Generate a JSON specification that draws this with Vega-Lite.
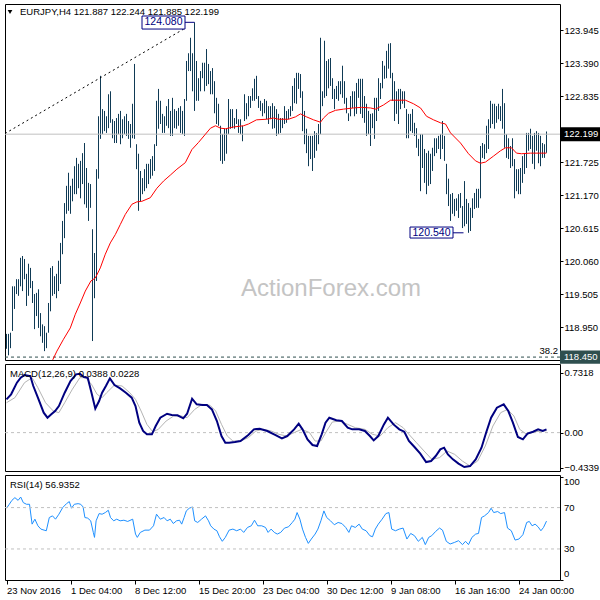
{
  "$schema": "https://vega.github.io/schema/vega-lite/v6.json",
  "background": "white",
  "padding": {"left": 2, "top": 3, "right": 0, "bottom": 0},
  "spacing": 4,
  "bounds": "flush",
  "config": {
    "view": {"stroke": "black", "strokeWidth": 1},
    "font": "Liberation Sans",
    "axis": {"grid": false, "domain": false, "labelFont": "Liberation Sans", "labelFontSize": 9.5, "labelColor": "black", "tickColor": "black", "labelOverlap": false}
  },
  "datasets": {
    "bars": [
      {"i":0,"h":118.84,"l":118.59},{"i":1,"h":118.84,"l":118.48},{"i":2,"h":118.86,"l":118.60},{"i":3,"h":119.64,"l":118.89},{"i":4,"h":119.64,"l":119.26},
      {"i":5,"h":119.76,"l":119.51},{"i":6,"h":119.76,"l":119.48},{"i":7,"h":120.12,"l":119.64},{"i":8,"h":120.15,"l":119.56},{"i":9,"h":120.10,"l":119.76},
      {"i":10,"h":119.85,"l":119.31},{"i":11,"h":120.02,"l":119.48},{"i":12,"h":119.95,"l":119.61},{"i":13,"h":119.73,"l":119.36},{"i":14,"h":119.51,"l":118.92},
      {"i":15,"h":119.53,"l":119.14},{"i":16,"h":119.59,"l":118.94},{"i":17,"h":119.19,"l":118.80},{"i":18,"h":119.00,"l":118.69},{"i":19,"h":118.97,"l":118.55},
      {"i":20,"h":118.86,"l":118.60},{"i":21,"h":119.36,"l":118.86},{"i":22,"h":119.95,"l":119.22},{"i":23,"h":119.98,"l":119.48},{"i":24,"h":119.81,"l":119.51},
      {"i":25,"h":119.85,"l":119.44},{"i":26,"h":120.07,"l":119.56},{"i":27,"h":120.37,"l":119.68},{"i":28,"h":120.74,"l":120.18},{"i":29,"h":121.04,"l":120.45},
      {"i":30,"h":121.33,"l":120.86},{"i":31,"h":121.55,"l":120.91},{"i":32,"h":121.33,"l":120.86},{"i":33,"h":121.45,"l":121.07},{"i":34,"h":121.66,"l":121.19},
      {"i":35,"h":121.80,"l":121.19},{"i":36,"h":121.70,"l":121.29},{"i":37,"h":121.75,"l":121.12},{"i":38,"h":121.88,"l":121.36},{"i":39,"h":122.05,"l":121.02},
      {"i":40,"h":121.63,"l":120.96},{"i":41,"h":121.38,"l":120.74},{"i":42,"h":121.36,"l":120.96},{"i":43,"h":120.60,"l":118.72},{"i":44,"h":120.20,"l":119.44},
      {"i":45,"h":121.61,"l":119.73},{"i":46,"h":122.50,"l":121.45},{"i":47,"h":123.18,"l":122.12},{"i":48,"h":122.62,"l":122.20},{"i":49,"h":122.59,"l":122.25},
      {"i":50,"h":122.50,"l":122.22},{"i":51,"h":122.87,"l":122.30},{"i":52,"h":122.92,"l":122.39},{"i":53,"h":122.45,"l":122.13},{"i":54,"h":122.42,"l":122.05},
      {"i":55,"h":122.47,"l":122.05},{"i":56,"h":122.54,"l":122.20},{"i":57,"h":122.59,"l":122.03},{"i":58,"h":122.45,"l":122.13},{"i":59,"h":122.50,"l":122.20},
      {"i":60,"h":122.54,"l":122.17},{"i":61,"h":122.42,"l":122.12},{"i":62,"h":122.37,"l":121.97},{"i":63,"h":122.71,"l":122.13},{"i":64,"h":123.38,"l":122.12},
      {"i":65,"h":122.03,"l":121.61},{"i":66,"h":121.87,"l":120.91},{"i":67,"h":121.58,"l":121.07},{"i":68,"h":121.46,"l":121.19},{"i":69,"h":121.61,"l":121.24},
      {"i":70,"h":121.70,"l":121.29},{"i":71,"h":121.70,"l":121.36},{"i":72,"h":121.78,"l":121.45},{"i":73,"h":121.83,"l":121.50},{"i":74,"h":122.03,"l":121.58},
      {"i":75,"h":122.76,"l":122.00},{"i":76,"h":122.96,"l":122.29},{"i":77,"h":122.76,"l":122.37},{"i":78,"h":122.54,"l":122.22},{"i":79,"h":122.50,"l":122.22},
      {"i":80,"h":122.67,"l":122.34},{"i":81,"h":122.79,"l":122.30},{"i":82,"h":122.59,"l":122.17},{"i":83,"h":122.81,"l":122.17},{"i":84,"h":122.62,"l":122.30},
      {"i":85,"h":122.59,"l":122.29},{"i":86,"h":122.64,"l":122.34},{"i":87,"h":122.67,"l":122.22},{"i":88,"h":122.59,"l":122.20},{"i":89,"h":122.79,"l":122.17},
      {"i":90,"h":123.43,"l":122.76},{"i":91,"h":123.56,"l":123.26},{"i":92,"h":123.82,"l":123.26},{"i":93,"h":123.56,"l":122.92},{"i":94,"h":124.08,"l":122.59},
      {"i":95,"h":123.43,"l":122.76},{"i":96,"h":123.14,"l":122.76},{"i":97,"h":123.26,"l":122.92},{"i":98,"h":123.40,"l":123.14},{"i":99,"h":123.40,"l":122.92},
      {"i":100,"h":123.63,"l":123.01},{"i":101,"h":123.38,"l":123.04},{"i":102,"h":123.26,"l":122.87},{"i":103,"h":123.31,"l":122.87},{"i":104,"h":123.09,"l":122.55},
      {"i":105,"h":122.81,"l":122.37},{"i":106,"h":122.71,"l":122.34},{"i":107,"h":122.34,"l":121.75},{"i":108,"h":122.20,"l":121.70},{"i":109,"h":122.29,"l":121.75},
      {"i":110,"h":122.30,"l":121.87},{"i":111,"h":122.79,"l":122.20},{"i":112,"h":122.62,"l":122.29},{"i":113,"h":122.62,"l":122.30},{"i":114,"h":122.47,"l":122.29},
      {"i":115,"h":122.62,"l":122.37},{"i":116,"h":122.45,"l":122.22},{"i":117,"h":122.45,"l":122.20},{"i":118,"h":122.34,"l":122.08},{"i":119,"h":122.87,"l":122.42},
      {"i":120,"h":122.72,"l":122.45},{"i":121,"h":122.84,"l":122.50},{"i":122,"h":122.84,"l":122.64},{"i":123,"h":122.97,"l":122.76},{"i":124,"h":123.13,"l":122.76},
      {"i":125,"h":123.18,"l":122.79},{"i":126,"h":122.84,"l":122.64},{"i":127,"h":122.76,"l":122.59},{"i":128,"h":122.72,"l":122.50},{"i":129,"h":122.79,"l":122.55},
      {"i":130,"h":122.76,"l":122.45},{"i":131,"h":122.67,"l":122.37},{"i":132,"h":122.67,"l":122.45},{"i":133,"h":122.72,"l":122.29},{"i":134,"h":122.67,"l":122.30},
      {"i":135,"h":122.62,"l":122.17},{"i":136,"h":122.54,"l":122.20},{"i":137,"h":122.47,"l":122.22},{"i":138,"h":122.47,"l":122.30},{"i":139,"h":122.67,"l":122.37},
      {"i":140,"h":122.59,"l":122.39},{"i":141,"h":122.62,"l":122.45},{"i":142,"h":122.67,"l":122.50},{"i":143,"h":123.01,"l":122.59},{"i":144,"h":123.14,"l":122.72},
      {"i":145,"h":123.23,"l":122.71},{"i":146,"h":123.23,"l":122.96},{"i":147,"h":123.21,"l":122.81},{"i":148,"h":122.92,"l":122.25},{"i":149,"h":122.59,"l":122.03},
      {"i":150,"h":122.29,"l":121.88},{"i":151,"h":122.17,"l":121.66},{"i":152,"h":122.17,"l":121.78},{"i":153,"h":122.17,"l":121.58},{"i":154,"h":122.25,"l":121.80},
      {"i":155,"h":122.22,"l":121.92},{"i":156,"h":122.37,"l":122.03},{"i":157,"h":123.82,"l":122.20},{"i":158,"h":122.92,"l":122.67},{"i":159,"h":123.77,"l":122.81},
      {"i":160,"h":123.43,"l":122.84},{"i":161,"h":123.46,"l":122.97},{"i":162,"h":123.48,"l":123.01},{"i":163,"h":123.14,"l":122.79},{"i":164,"h":122.96,"l":122.62},
      {"i":165,"h":123.01,"l":122.79},{"i":166,"h":123.09,"l":122.76},{"i":167,"h":123.09,"l":122.87},{"i":168,"h":123.35,"l":122.81},{"i":169,"h":123.09,"l":122.71},
      {"i":170,"h":122.81,"l":122.55},{"i":171,"h":122.55,"l":122.42},{"i":172,"h":122.84,"l":122.50},{"i":173,"h":122.92,"l":122.64},{"i":174,"h":122.92,"l":122.50},
      {"i":175,"h":123.06,"l":122.54},{"i":176,"h":123.13,"l":122.81},{"i":177,"h":123.13,"l":122.54},{"i":178,"h":123.13,"l":122.47},{"i":179,"h":122.84,"l":122.39},
      {"i":180,"h":122.71,"l":122.17},{"i":181,"h":122.59,"l":122.20},{"i":182,"h":122.54,"l":122.00},{"i":183,"h":122.55,"l":122.30},{"i":184,"h":122.81,"l":122.12},
      {"i":185,"h":122.81,"l":122.42},{"i":186,"h":123.14,"l":122.59},{"i":187,"h":123.06,"l":122.79},{"i":188,"h":123.43,"l":122.97},{"i":189,"h":123.35,"l":123.13},
      {"i":190,"h":123.60,"l":123.14},{"i":191,"h":123.72,"l":123.30},{"i":192,"h":123.73,"l":123.14},{"i":193,"h":123.23,"l":122.76},{"i":194,"h":123.09,"l":122.42},
      {"i":195,"h":122.92,"l":122.54},{"i":196,"h":122.96,"l":122.37},{"i":197,"h":122.96,"l":122.62},{"i":198,"h":122.92,"l":122.71},{"i":199,"h":122.92,"l":122.64},
      {"i":200,"h":122.62,"l":122.13},{"i":201,"h":122.54,"l":122.13},{"i":202,"h":122.54,"l":122.25},{"i":203,"h":122.62,"l":122.22},{"i":204,"h":122.39,"l":122.17},
      {"i":205,"h":122.30,"l":121.97},{"i":206,"h":122.12,"l":121.83},{"i":207,"h":122.20,"l":121.24},{"i":208,"h":122.20,"l":121.63},{"i":209,"h":121.95,"l":121.38},
      {"i":210,"h":121.88,"l":121.19},{"i":211,"h":121.92,"l":121.33},{"i":212,"h":121.87,"l":121.36},{"i":213,"h":121.97,"l":121.58},{"i":214,"h":122.13,"l":121.83},
      {"i":215,"h":122.13,"l":121.88},{"i":216,"h":122.17,"l":121.95},{"i":217,"h":122.20,"l":121.78},{"i":218,"h":122.42,"l":121.95},{"i":219,"h":122.17,"l":121.75},
      {"i":220,"h":121.70,"l":121.19},{"i":221,"h":121.45,"l":120.99},{"i":222,"h":121.19,"l":120.74},{"i":223,"h":121.21,"l":120.86},{"i":224,"h":121.11,"l":120.82},
      {"i":225,"h":121.12,"l":120.91},{"i":226,"h":121.19,"l":120.79},{"i":227,"h":121.21,"l":120.96},{"i":228,"h":120.99,"l":120.62},{"i":229,"h":121.41,"l":120.65},
      {"i":230,"h":121.11,"l":120.69},{"i":231,"h":121.04,"l":120.54},{"i":232,"h":120.96,"l":120.57},{"i":233,"h":121.12,"l":120.79},{"i":234,"h":121.21,"l":120.94},
      {"i":235,"h":121.28,"l":120.96},{"i":236,"h":121.28,"l":120.96},{"i":237,"h":122.00,"l":121.12},{"i":238,"h":122.05,"l":121.80},{"i":239,"h":122.03,"l":121.78},
      {"i":240,"h":122.34,"l":121.88},{"i":241,"h":122.45,"l":121.95},{"i":242,"h":122.76,"l":122.30},{"i":243,"h":122.71,"l":122.37},{"i":244,"h":122.71,"l":122.29},
      {"i":245,"h":122.67,"l":122.39},{"i":246,"h":122.71,"l":122.45},{"i":247,"h":122.67,"l":122.42},{"i":248,"h":122.96,"l":122.29},{"i":249,"h":122.72,"l":121.97},
      {"i":250,"h":122.20,"l":121.80},{"i":251,"h":122.13,"l":121.78},{"i":252,"h":122.00,"l":121.63},{"i":253,"h":122.13,"l":121.66},{"i":254,"h":121.78,"l":121.12},
      {"i":255,"h":121.61,"l":121.24},{"i":256,"h":121.61,"l":121.19},{"i":257,"h":121.63,"l":121.19},{"i":258,"h":121.83,"l":121.38},{"i":259,"h":121.88,"l":121.53},
      {"i":260,"h":122.22,"l":121.63},{"i":261,"h":122.22,"l":121.92},{"i":262,"h":122.29,"l":121.95},{"i":263,"h":122.17,"l":121.70},{"i":264,"h":122.22,"l":121.61},
      {"i":265,"h":122.25,"l":121.92},{"i":266,"h":122.22,"l":121.71},{"i":267,"h":122.17,"l":121.66},{"i":268,"h":122.05,"l":121.80},{"i":269,"h":122.03,"l":121.80},
      {"i":270,"h":122.244,"l":121.885}
    ],
    "ema": [
      {"i":21,"v":118.25},{"i":23.2,"v":118.41},{"i":25.2,"v":118.55},{"i":28.5,"v":118.75},{"i":31.9,"v":118.94},{"i":34.4,"v":119.17},
      {"i":36.9,"v":119.36},{"i":39.4,"v":119.56},{"i":42.2,"v":119.73},{"i":44.4,"v":119.78},{"i":46.9,"v":119.95},{"i":49.4,"v":120.18},
      {"i":51.9,"v":120.37},{"i":54.4,"v":120.51},{"i":56.9,"v":120.68},{"i":59.4,"v":120.85},{"i":62.7,"v":121.02},{"i":65.2,"v":121.06},
      {"i":67.7,"v":121.07},{"i":71.9,"v":121.13},{"i":75.2,"v":121.29},{"i":78.5,"v":121.41},{"i":81.9,"v":121.51},{"i":85.2,"v":121.61},
      {"i":89.4,"v":121.72},{"i":92.7,"v":121.94},{"i":96,"v":122.06},{"i":99.5,"v":122.20},{"i":102,"v":122.30},{"i":104.5,"v":122.34},
      {"i":107,"v":122.30},{"i":109.5,"v":122.29},{"i":113.5,"v":122.32},{"i":118.5,"v":122.34},{"i":121,"v":122.37},{"i":125,"v":122.44},
      {"i":130,"v":122.45},{"i":133.5,"v":122.47},{"i":136,"v":122.45},{"i":141,"v":122.45},{"i":144.5,"v":122.49},{"i":147,"v":122.54},
      {"i":150,"v":122.49},{"i":153.5,"v":122.44},{"i":157,"v":122.40},{"i":158.5,"v":122.47},{"i":161,"v":122.55},{"i":164.5,"v":122.60},
      {"i":168.5,"v":122.62},{"i":173.5,"v":122.64},{"i":177.5,"v":122.65},{"i":182,"v":122.64},{"i":184.5,"v":122.62},{"i":188.5,"v":122.69},
      {"i":192,"v":122.77},{"i":199.5,"v":122.77},{"i":203.5,"v":122.71},{"i":207,"v":122.64},{"i":210,"v":122.50},{"i":213.5,"v":122.44},
      {"i":217,"v":122.39},{"i":219.5,"v":122.37},{"i":222,"v":122.22},{"i":227,"v":122.05},{"i":231,"v":121.87},{"i":234.5,"v":121.75},
      {"i":237,"v":121.71},{"i":239.5,"v":121.73},{"i":243.5,"v":121.83},{"i":247,"v":121.92},{"i":249.5,"v":121.97},{"i":252.5,"v":121.97},
      {"i":255,"v":121.88},{"i":257.5,"v":121.87},{"i":262,"v":121.88},{"i":267,"v":121.88},{"i":270,"v":121.88}
    ],
    "trend": [{"i":-0.75,"p":122.21},{"i":88.75,"p":123.97}],
    "macd": [
      {"i":0,"v":0.408},{"i":2.3,"v":0.470},{"i":5.2,"v":0.613},{"i":7.1,"v":0.674},{"i":9,"v":0.707},{"i":11.9,"v":0.694},{"i":13.4,"v":0.572},
      {"i":15.7,"v":0.429},{"i":18.6,"v":0.245},{"i":20.5,"v":0.183},{"i":22.4,"v":0.224},{"i":24.3,"v":0.265},{"i":26.2,"v":0.326},{"i":29.1,"v":0.490},
      {"i":32,"v":0.633},{"i":34.8,"v":0.715},{"i":36.7,"v":0.723},{"i":38.7,"v":0.682},{"i":40.6,"v":0.674},{"i":42.5,"v":0.490},{"i":44.4,"v":0.294},
      {"i":46.3,"v":0.388},{"i":47.8,"v":0.490},{"i":49.7,"v":0.572},{"i":51.7,"v":0.666},{"i":54,"v":0.584},{"i":56.8,"v":0.543},{"i":59.7,"v":0.490},
      {"i":62.6,"v":0.429},{"i":64.5,"v":0.326},{"i":66.4,"v":0.122},{"i":68.3,"v":0.020},{"i":70.2,"v":-0.021},{"i":72.7,"v":-0.021},{"i":74.6,"v":0.081},
      {"i":76.9,"v":0.183},{"i":80.3,"v":0.232},{"i":82.6,"v":0.216},{"i":85.5,"v":0.212},{"i":88.4,"v":0.175},{"i":90.3,"v":0.232},{"i":92.8,"v":0.416},
      {"i":95.1,"v":0.347},{"i":97.9,"v":0.339},{"i":100.2,"v":0.339},{"i":102.7,"v":0.285},{"i":105.2,"v":0.142},{"i":107.5,"v":-0.042},{"i":109.4,"v":-0.124},
      {"i":111.3,"v":-0.124},{"i":114.2,"v":-0.115},{"i":117,"v":-0.103},{"i":120.9,"v":-0.029},{"i":123.7,"v":0.040},{"i":126.6,"v":0.048},{"i":130.4,"v":0.020},
      {"i":134.3,"v":-0.029},{"i":137.7,"v":-0.070},{"i":140.4,"v":-0.042},{"i":143.8,"v":0.040},{"i":146.1,"v":0.110},{"i":148,"v":0.040},{"i":150.5,"v":-0.083},
      {"i":153,"v":-0.152},{"i":155.3,"v":-0.164},{"i":157.6,"v":-0.021},{"i":159.5,"v":0.122},{"i":161.4,"v":0.183},{"i":164.9,"v":0.151},{"i":167.7,"v":0.142},
      {"i":170.6,"v":0.061},{"i":172.9,"v":0.040},{"i":176.3,"v":0.040},{"i":179.2,"v":0.020},{"i":181.7,"v":-0.042},{"i":183.6,"v":-0.095},{"i":185.9,"v":-0.042},
      {"i":188.7,"v":0.101},{"i":190.7,"v":0.183},{"i":193.5,"v":0.101},{"i":196.4,"v":0.040},{"i":198.9,"v":0.011},{"i":201.2,"v":-0.103},{"i":204,"v":-0.177},
      {"i":206.9,"v":-0.258},{"i":209.8,"v":-0.361},{"i":212.3,"v":-0.348},{"i":214.6,"v":-0.287},{"i":216.9,"v":-0.205},{"i":218.8,"v":-0.185},{"i":220.7,"v":-0.267},
      {"i":223.2,"v":-0.328},{"i":226,"v":-0.381},{"i":228.9,"v":-0.422},{"i":231.8,"v":-0.410},{"i":234.6,"v":-0.328},{"i":237.5,"v":-0.185},{"i":239.8,"v":-0.001},
      {"i":242.3,"v":0.183},{"i":245.2,"v":0.306},{"i":248.6,"v":0.347},{"i":250.9,"v":0.265},{"i":253.2,"v":0.122},{"i":255.7,"v":-0.054},{"i":258.2,"v":-0.083},
      {"i":260.5,"v":-0.013},{"i":263.3,"v":0.011},{"i":265.8,"v":0.040},{"i":268.1,"v":0.020},{"i":270,"v":0.039}
    ],
    "sig": [
      {"i":0,"v":0.367},{"i":4.2,"v":0.429},{"i":9,"v":0.613},{"i":12.8,"v":0.674},{"i":15.7,"v":0.551},{"i":19.5,"v":0.367},{"i":23.4,"v":0.265},
      {"i":26.2,"v":0.245},{"i":29.1,"v":0.367},{"i":32.9,"v":0.531},{"i":36.7,"v":0.674},{"i":39.6,"v":0.674},{"i":42.5,"v":0.592},{"i":45.3,"v":0.470},
      {"i":47.8,"v":0.429},{"i":50.1,"v":0.490},{"i":54,"v":0.584},{"i":57.8,"v":0.572},{"i":61.6,"v":0.490},{"i":64.5,"v":0.408},{"i":67.3,"v":0.265},
      {"i":70.2,"v":0.101},{"i":73.1,"v":0.011},{"i":75.9,"v":0.040},{"i":79.8,"v":0.142},{"i":83.6,"v":0.204},{"i":87.4,"v":0.204},{"i":90.3,"v":0.183},
      {"i":94.1,"v":0.285},{"i":97.9,"v":0.347},{"i":101.8,"v":0.335},{"i":104.6,"v":0.265},{"i":107.5,"v":0.101},{"i":110.4,"v":-0.042},{"i":113.2,"v":-0.103},
      {"i":117,"v":-0.103},{"i":120.9,"v":-0.062},{"i":124.7,"v":0.020},{"i":128.5,"v":0.040},{"i":132.3,"v":0.020},{"i":136.2,"v":-0.021},{"i":140,"v":-0.042},
      {"i":143.8,"v":0.000},{"i":147.6,"v":0.040},{"i":151.5,"v":0.000},{"i":154.3,"v":-0.103},{"i":157.2,"v":-0.103},{"i":160.1,"v":0.020},{"i":162.9,"v":0.130},
      {"i":166.8,"v":0.142},{"i":170.6,"v":0.101},{"i":174.4,"v":0.061},{"i":179.2,"v":0.040},{"i":183,"v":-0.021},{"i":186.8,"v":-0.042},{"i":190.7,"v":0.061},
      {"i":194.5,"v":0.122},{"i":198.3,"v":0.061},{"i":201.2,"v":-0.021},{"i":205,"v":-0.124},{"i":208.8,"v":-0.226},{"i":212.7,"v":-0.328},{"i":216.5,"v":-0.307},
      {"i":220.3,"v":-0.226},{"i":224.1,"v":-0.267},{"i":227.9,"v":-0.348},{"i":231.8,"v":-0.410},{"i":235.6,"v":-0.348},{"i":239.4,"v":-0.164},{"i":243.2,"v":0.081},
      {"i":247.1,"v":0.245},{"i":250.5,"v":0.285},{"i":253.7,"v":0.204},{"i":256.6,"v":0.040},{"i":260.1,"v":-0.021},{"i":264.3,"v":0.011},{"i":268.1,"v":0.020},
      {"i":270,"v":0.023}
    ],
    "rsi": [
      {"i":0,"r":69.4},{"i":1.4,"r":73.2},{"i":2.7,"r":77.0},{"i":4.2,"r":79.6},{"i":5.8,"r":77.0},{"i":7.1,"r":80.2},{"i":8.4,"r":74.8},{"i":10,"r":73.2},
      {"i":11.5,"r":73.2},{"i":12.8,"r":54.0},{"i":14.2,"r":58.8},{"i":15.7,"r":52.4},{"i":17.2,"r":49.2},{"i":18.8,"r":48.2},{"i":19.9,"r":47.6},{"i":21.4,"r":60.4},
      {"i":23,"r":62.0},{"i":24.5,"r":58.8},{"i":26.2,"r":63.6},{"i":28.1,"r":70.0},{"i":30,"r":73.8},{"i":31.4,"r":75.8},{"i":32.5,"r":69.4},{"i":33.9,"r":73.2},
      {"i":35.8,"r":73.8},{"i":37.1,"r":73.2},{"i":38.3,"r":70.6},{"i":39.2,"r":60.4},{"i":40.6,"r":59.8},{"i":42.1,"r":57.2},{"i":43.4,"r":46.0},{"i":44,"r":41.2},
      {"i":44.8,"r":57.2},{"i":46.3,"r":64.2},{"i":47.8,"r":63.6},{"i":49.4,"r":65.2},{"i":50.9,"r":67.4},{"i":52,"r":60.4},{"i":53.6,"r":57.2},{"i":55.1,"r":58.8},
      {"i":56.8,"r":57.2},{"i":58.7,"r":57.8},{"i":60.6,"r":56.6},{"i":63.1,"r":58.8},{"i":64.5,"r":44.4},{"i":65.4,"r":41.2},{"i":66.9,"r":46.0},{"i":69.2,"r":48.2},
      {"i":71.5,"r":48.2},{"i":73.5,"r":52.4},{"i":75,"r":63.6},{"i":76.9,"r":58.8},{"i":78.8,"r":60.4},{"i":80.3,"r":57.2},{"i":81.9,"r":58.8},{"i":83.4,"r":54.6},
      {"i":85,"r":57.2},{"i":86.5,"r":57.8},{"i":87.6,"r":54.0},{"i":88.8,"r":60.4},{"i":89.9,"r":66.8},{"i":91.4,"r":69.4},{"i":93,"r":70.6},{"i":94.1,"r":57.2},
      {"i":95.6,"r":55.6},{"i":97.5,"r":58.8},{"i":99.5,"r":62.0},{"i":101,"r":57.2},{"i":102.1,"r":52.4},{"i":103.7,"r":49.2},{"i":105.2,"r":47.6},{"i":106.5,"r":41.8},
      {"i":107.9,"r":37.4},{"i":109.4,"r":41.2},{"i":111.3,"r":48.2},{"i":113.2,"r":49.2},{"i":115.1,"r":47.6},{"i":117,"r":49.2},{"i":118.6,"r":46.0},{"i":120.5,"r":50.8},
      {"i":122.4,"r":52.4},{"i":124,"r":57.8},{"i":125.6,"r":52.4},{"i":127.6,"r":52.4},{"i":129.5,"r":50.8},{"i":130.8,"r":46.0},{"i":132.3,"r":49.2},{"i":133.9,"r":46.0},
      {"i":135.4,"r":44.4},{"i":137.1,"r":46.0},{"i":139,"r":50.2},{"i":141,"r":51.4},{"i":142.9,"r":55.6},{"i":144.2,"r":58.8},{"i":145.3,"r":65.2},{"i":146.7,"r":58.8},
      {"i":148,"r":49.2},{"i":149.5,"r":41.2},{"i":150.9,"r":35.4},{"i":152.4,"r":39.6},{"i":154.3,"r":44.4},{"i":155.7,"r":49.2},{"i":157.2,"r":57.2},{"i":158.7,"r":66.8},
      {"i":160.1,"r":60.4},{"i":162,"r":57.2},{"i":163.9,"r":53.4},{"i":165.8,"r":55.6},{"i":167.7,"r":54.6},{"i":169.6,"r":50.8},{"i":171.2,"r":46.0},{"i":172.5,"r":52.4},
      {"i":174.4,"r":50.8},{"i":176.3,"r":54.0},{"i":177.9,"r":49.2},{"i":179.8,"r":47.6},{"i":181.7,"r":42.8},{"i":183,"r":41.8},{"i":184.4,"r":49.2},{"i":185.9,"r":54.0},
      {"i":187.8,"r":58.8},{"i":189.7,"r":64.2},{"i":191.2,"r":65.2},{"i":192.6,"r":49.2},{"i":194.5,"r":47.6},{"i":196.4,"r":49.2},{"i":198.3,"r":50.2},{"i":200.2,"r":39.6},
      {"i":202.1,"r":45.0},{"i":204,"r":42.8},{"i":205.9,"r":37.4},{"i":207.9,"r":41.2},{"i":209.4,"r":34.2},{"i":211.1,"r":41.2},{"i":212.6,"r":42.8},{"i":214.6,"r":47.0},
      {"i":216.5,"r":50.2},{"i":218,"r":48.2},{"i":219.9,"r":37.4},{"i":221.8,"r":34.8},{"i":224.1,"r":36.4},{"i":226,"r":38.0},{"i":228,"r":34.2},{"i":229.5,"r":37.4},
      {"i":231,"r":34.2},{"i":232.7,"r":41.2},{"i":234.6,"r":44.4},{"i":236,"r":45.0},{"i":237.5,"r":60.4},{"i":239,"r":62.0},{"i":241,"r":65.2},{"i":242.3,"r":69.4},
      {"i":243.6,"r":65.2},{"i":245.6,"r":66.2},{"i":247.1,"r":64.2},{"i":249,"r":65.2},{"i":250.5,"r":50.2},{"i":252.4,"r":47.6},{"i":254.3,"r":38.6},{"i":256.2,"r":39.6},
      {"i":258.2,"r":43.8},{"i":260.1,"r":55.6},{"i":261.4,"r":56.6},{"i":262.8,"r":52.4},{"i":264.3,"r":54.0},{"i":265.8,"r":51.4},{"i":267.2,"r":47.6},{"i":268.5,"r":50.8},
      {"i":270,"r":56.94}
    ],
    "rsilabels": [{"t":"100","r":94.8},{"t":"70","r":70},{"t":"30","r":30},{"t":"0","r":5.8}]
  },
  "vconcat": [
    {
      "width": 555,
      "height": 356,
      "layer": [
        {
          "data": {"name": "bars"},
          "mark": {"type": "rule", "color": "#0f3a55", "strokeWidth": 1},
          "encoding": {
            "x": {"field": "i", "type": "quantitative", "title": null, "scale": {"domain": [-0.75, 276.75], "nice": false, "zero": false}, "axis": null},
            "y": {"field": "h", "type": "quantitative", "title": null, "scale": {"domain": [118.401, 124.388], "nice": false, "zero": false},
              "axis": {"orient": "right", "title": null, "values": [118.95, 119.505, 120.06, 120.615, 121.17, 121.725, 122.835, 123.39, 123.945], "labelExpr": "format(datum.value, '.3f')", "tickSize": 3, "labelPadding": 1, "labelOverlap": false, "labelBound": false}},
            "y2": {"field": "l"}
          }
        },
        {
          "data": {"values": [{}]},
          "mark": {"type": "rule", "color": "#c0c0c0", "strokeWidth": 1},
          "encoding": {"y": {"datum": 122.199, "type": "quantitative", "title": null}}
        },
        {
          "data": {"values": [{}]},
          "mark": {"type": "rule", "color": "#2f4f4f", "strokeWidth": 1, "strokeDash": [3, 3]},
          "encoding": {"y": {"datum": 118.45, "type": "quantitative", "title": null}}
        },
        {
          "data": {"name": "trend"},
          "mark": {"type": "line", "color": "black", "strokeWidth": 1, "strokeDash": [2, 3]},
          "encoding": {
            "x": {"field": "i", "type": "quantitative", "title": null},
            "y": {"field": "p", "type": "quantitative", "title": null}
          }
        },
        {
          "data": {"name": "ema"},
          "mark": {"type": "line", "color": "#ff0000", "strokeWidth": 1, "clip": true},
          "encoding": {
            "x": {"field": "i", "type": "quantitative", "title": null},
            "y": {"field": "v", "type": "quantitative", "title": null}
          }
        },
        {
          "data": {"values": [{}]},
          "mark": {"type": "text", "text": "ActionForex.com", "fontSize": 24, "color": "#c4c4c4", "align": "center", "baseline": "middle", "font": "Liberation Sans"},
          "encoding": {"x": {"datum": 162.25, "type": "quantitative", "title": null}, "y": {"datum": 119.59, "type": "quantitative", "title": null}}
        },
        {
          "data": {"values": [{}]},
          "mark": {"type": "point", "shape": "triangle-down", "filled": true, "color": "black", "size": 22, "opacity": 1},
          "encoding": {"x": {"datum": 1.75, "type": "quantitative", "title": null}, "y": {"datum": 124.253, "type": "quantitative", "title": null}}
        },
        {
          "data": {"values": [{}]},
          "mark": {"type": "text", "text": "EURJPY,H4  121.887 122.244 121.885 122.199", "fontSize": 9.5, "color": "black", "align": "left", "baseline": "middle"},
          "encoding": {"x": {"datum": 6.75, "type": "quantitative", "title": null}, "y": {"datum": 124.253, "type": "quantitative", "title": null}}
        },
        {
          "data": {"values": [{}]},
          "mark": {"type": "rule", "color": "#000080", "strokeWidth": 1},
          "encoding": {"x": {"datum": 89.25, "type": "quantitative", "title": null}, "x2": {"datum": 94}, "y": {"datum": 124.08, "type": "quantitative", "title": null}}
        },
        {
          "data": {"values": [{}]},
          "mark": {"type": "rect", "fill": "white", "stroke": "#000080", "strokeWidth": 1},
          "encoding": {"x": {"datum": 67.75, "type": "quantitative", "title": null}, "x2": {"datum": 89.25}, "y": {"datum": 124.186, "type": "quantitative", "title": null}, "y2": {"datum": 123.967}}
        },
        {
          "data": {"values": [{}]},
          "mark": {"type": "text", "text": "124.080", "fontSize": 10.5, "color": "#000080", "align": "center", "baseline": "middle"},
          "encoding": {"x": {"datum": 78.5, "type": "quantitative", "title": null}, "y": {"datum": 124.077, "type": "quantitative", "title": null}}
        },
        {
          "data": {"values": [{}]},
          "mark": {"type": "rule", "color": "#000080", "strokeWidth": 1},
          "encoding": {"x": {"datum": 223.25, "type": "quantitative", "title": null}, "x2": {"datum": 228.5}, "y": {"datum": 120.54, "type": "quantitative", "title": null}}
        },
        {
          "data": {"values": [{}]},
          "mark": {"type": "rect", "fill": "white", "stroke": "#000080", "strokeWidth": 1},
          "encoding": {"x": {"datum": 201.75, "type": "quantitative", "title": null}, "x2": {"datum": 223.25}, "y": {"datum": 120.637, "type": "quantitative", "title": null}, "y2": {"datum": 120.452}}
        },
        {
          "data": {"values": [{}]},
          "mark": {"type": "text", "text": "120.540", "fontSize": 10.5, "color": "#000080", "align": "center", "baseline": "middle"},
          "encoding": {"x": {"datum": 212.5, "type": "quantitative", "title": null}, "y": {"datum": 120.544, "type": "quantitative", "title": null}}
        },
        {
          "data": {"values": [{}]},
          "mark": {"type": "text", "text": "38.2", "fontSize": 9.5, "color": "black", "align": "right", "baseline": "bottom"},
          "encoding": {"x": {"datum": 275.75, "type": "quantitative", "title": null}, "y": {"datum": 118.47, "type": "quantitative", "title": null}}
        },
        {
          "data": {"values": [{}]},
          "mark": {"type": "rect", "fill": "black"},
          "encoding": {"x": {"datum": 276.75, "type": "quantitative", "title": null}, "x2": {"datum": 297.75}, "y": {"datum": 122.317, "type": "quantitative", "title": null}, "y2": {"datum": 122.081}}
        },
        {
          "data": {"values": [{}]},
          "mark": {"type": "text", "text": "122.199", "fontSize": 9.5, "color": "white", "align": "left", "baseline": "middle"},
          "encoding": {"x": {"datum": 278.75, "type": "quantitative", "title": null}, "y": {"datum": 122.199, "type": "quantitative", "title": null}}
        },
        {
          "data": {"values": [{}]},
          "mark": {"type": "rect", "fill": "#2f4f4f"},
          "encoding": {"x": {"datum": 276.75, "type": "quantitative", "title": null}, "x2": {"datum": 297.75}, "y": {"datum": 118.562, "type": "quantitative", "title": null}, "y2": {"datum": 118.338}}
        },
        {
          "data": {"values": [{}]},
          "mark": {"type": "text", "text": "118.450", "fontSize": 9.5, "color": "white", "align": "left", "baseline": "middle"},
          "encoding": {"x": {"datum": 278.75, "type": "quantitative", "title": null}, "y": {"datum": 118.45, "type": "quantitative", "title": null}}
        }
      ]
    },
    {
      "width": 555,
      "height": 107,
      "layer": [
        {
          "data": {"name": "sig"},
          "mark": {"type": "line", "color": "#b4b4b4", "strokeWidth": 1},
          "encoding": {
            "x": {"field": "i", "type": "quantitative", "title": null, "scale": {"domain": [-0.75, 276.75], "nice": false, "zero": false}, "axis": null},
            "y": {"field": "v", "type": "quantitative", "title": null, "scale": {"domain": [-0.471, 0.842], "nice": false, "zero": false},
              "axis": {"orient": "right", "title": null, "values": [-0.4339, 0, 0.7318], "labelExpr": "datum.value == 0 ? '0.00' : format(datum.value, '.4f')", "tickSize": 3, "labelPadding": 1, "labelOverlap": false}}
          }
        },
        {
          "data": {"values": [{}]},
          "mark": {"type": "rule", "color": "#c0c0c0", "strokeWidth": 1, "strokeDash": [3, 3]},
          "encoding": {"y": {"datum": 0, "type": "quantitative", "title": null}}
        },
        {
          "data": {"name": "macd"},
          "mark": {"type": "line", "color": "#000080", "strokeWidth": 2},
          "encoding": {
            "x": {"field": "i", "type": "quantitative", "title": null},
            "y": {"field": "v", "type": "quantitative", "title": null}
          }
        },
        {
          "data": {"values": [{}]},
          "mark": {"type": "text", "text": "MACD(12,26,9) 0.0388 0.0228", "fontSize": 9.5, "color": "black", "align": "left", "baseline": "middle"},
          "encoding": {"x": {"datum": 1.75, "type": "quantitative", "title": null}, "y": {"datum": 0.719, "type": "quantitative", "title": null}}
        }
      ]
    },
    {
      "width": 555,
      "height": 105,
      "layer": [
        {
          "data": {"name": "rsi"},
          "mark": {"type": "line", "color": "#1e90ff", "strokeWidth": 1},
          "encoding": {
            "x": {"field": "i", "type": "quantitative", "title": null, "scale": {"domain": [-0.75, 276.75], "nice": false, "zero": false},
              "axis": {"orient": "bottom", "title": null, "values": [0, 32, 64, 96, 128, 160, 192, 224, 256], "labelExpr": "['23 Nov 2016','1 Dec 04:00','8 Dec 12:00','15 Dec 20:00','23 Dec 04:00','30 Dec 12:00','9 Jan 08:00','16 Jan 16:00','24 Jan 00:00'][round(datum.value/32)]", "labelAlign": "left", "labelBaseline": "top", "tickSize": 4, "labelPadding": 1, "labelFlush": false, "labelOverlap": false}},
            "y": {"field": "r", "type": "quantitative", "title": null, "scale": {"domain": [0, 101.5], "nice": false, "zero": false},
              "axis": {"orient": "right", "title": null, "values": [0, 30, 70, 100], "labels": false, "tickSize": 3}}
          }
        },
        {
          "data": {"values": [{}]},
          "mark": {"type": "rule", "color": "#c0c0c0", "strokeWidth": 1, "strokeDash": [3, 3]},
          "encoding": {"y": {"datum": 70, "type": "quantitative", "title": null}}
        },
        {
          "data": {"values": [{}]},
          "mark": {"type": "rule", "color": "#c0c0c0", "strokeWidth": 1, "strokeDash": [3, 3]},
          "encoding": {"y": {"datum": 30, "type": "quantitative", "title": null}}
        },
        {
          "data": {"values": [{}]},
          "mark": {"type": "text", "text": "RSI(14) 56.9352", "fontSize": 9.5, "color": "black", "align": "left", "baseline": "middle"},
          "encoding": {"x": {"datum": 1.75, "type": "quantitative", "title": null}, "y": {"datum": 91.8, "type": "quantitative", "title": null}}
        },
        {
          "data": {"name": "rsilabels"},
          "mark": {"type": "text", "fontSize": 9.5, "color": "black", "align": "left", "baseline": "middle"},
          "encoding": {
            "x": {"datum": 278.75, "type": "quantitative", "title": null},
            "y": {"field": "r", "type": "quantitative", "title": null},
            "text": {"field": "t"}
          }
        }
      ]
    }
  ]
}
